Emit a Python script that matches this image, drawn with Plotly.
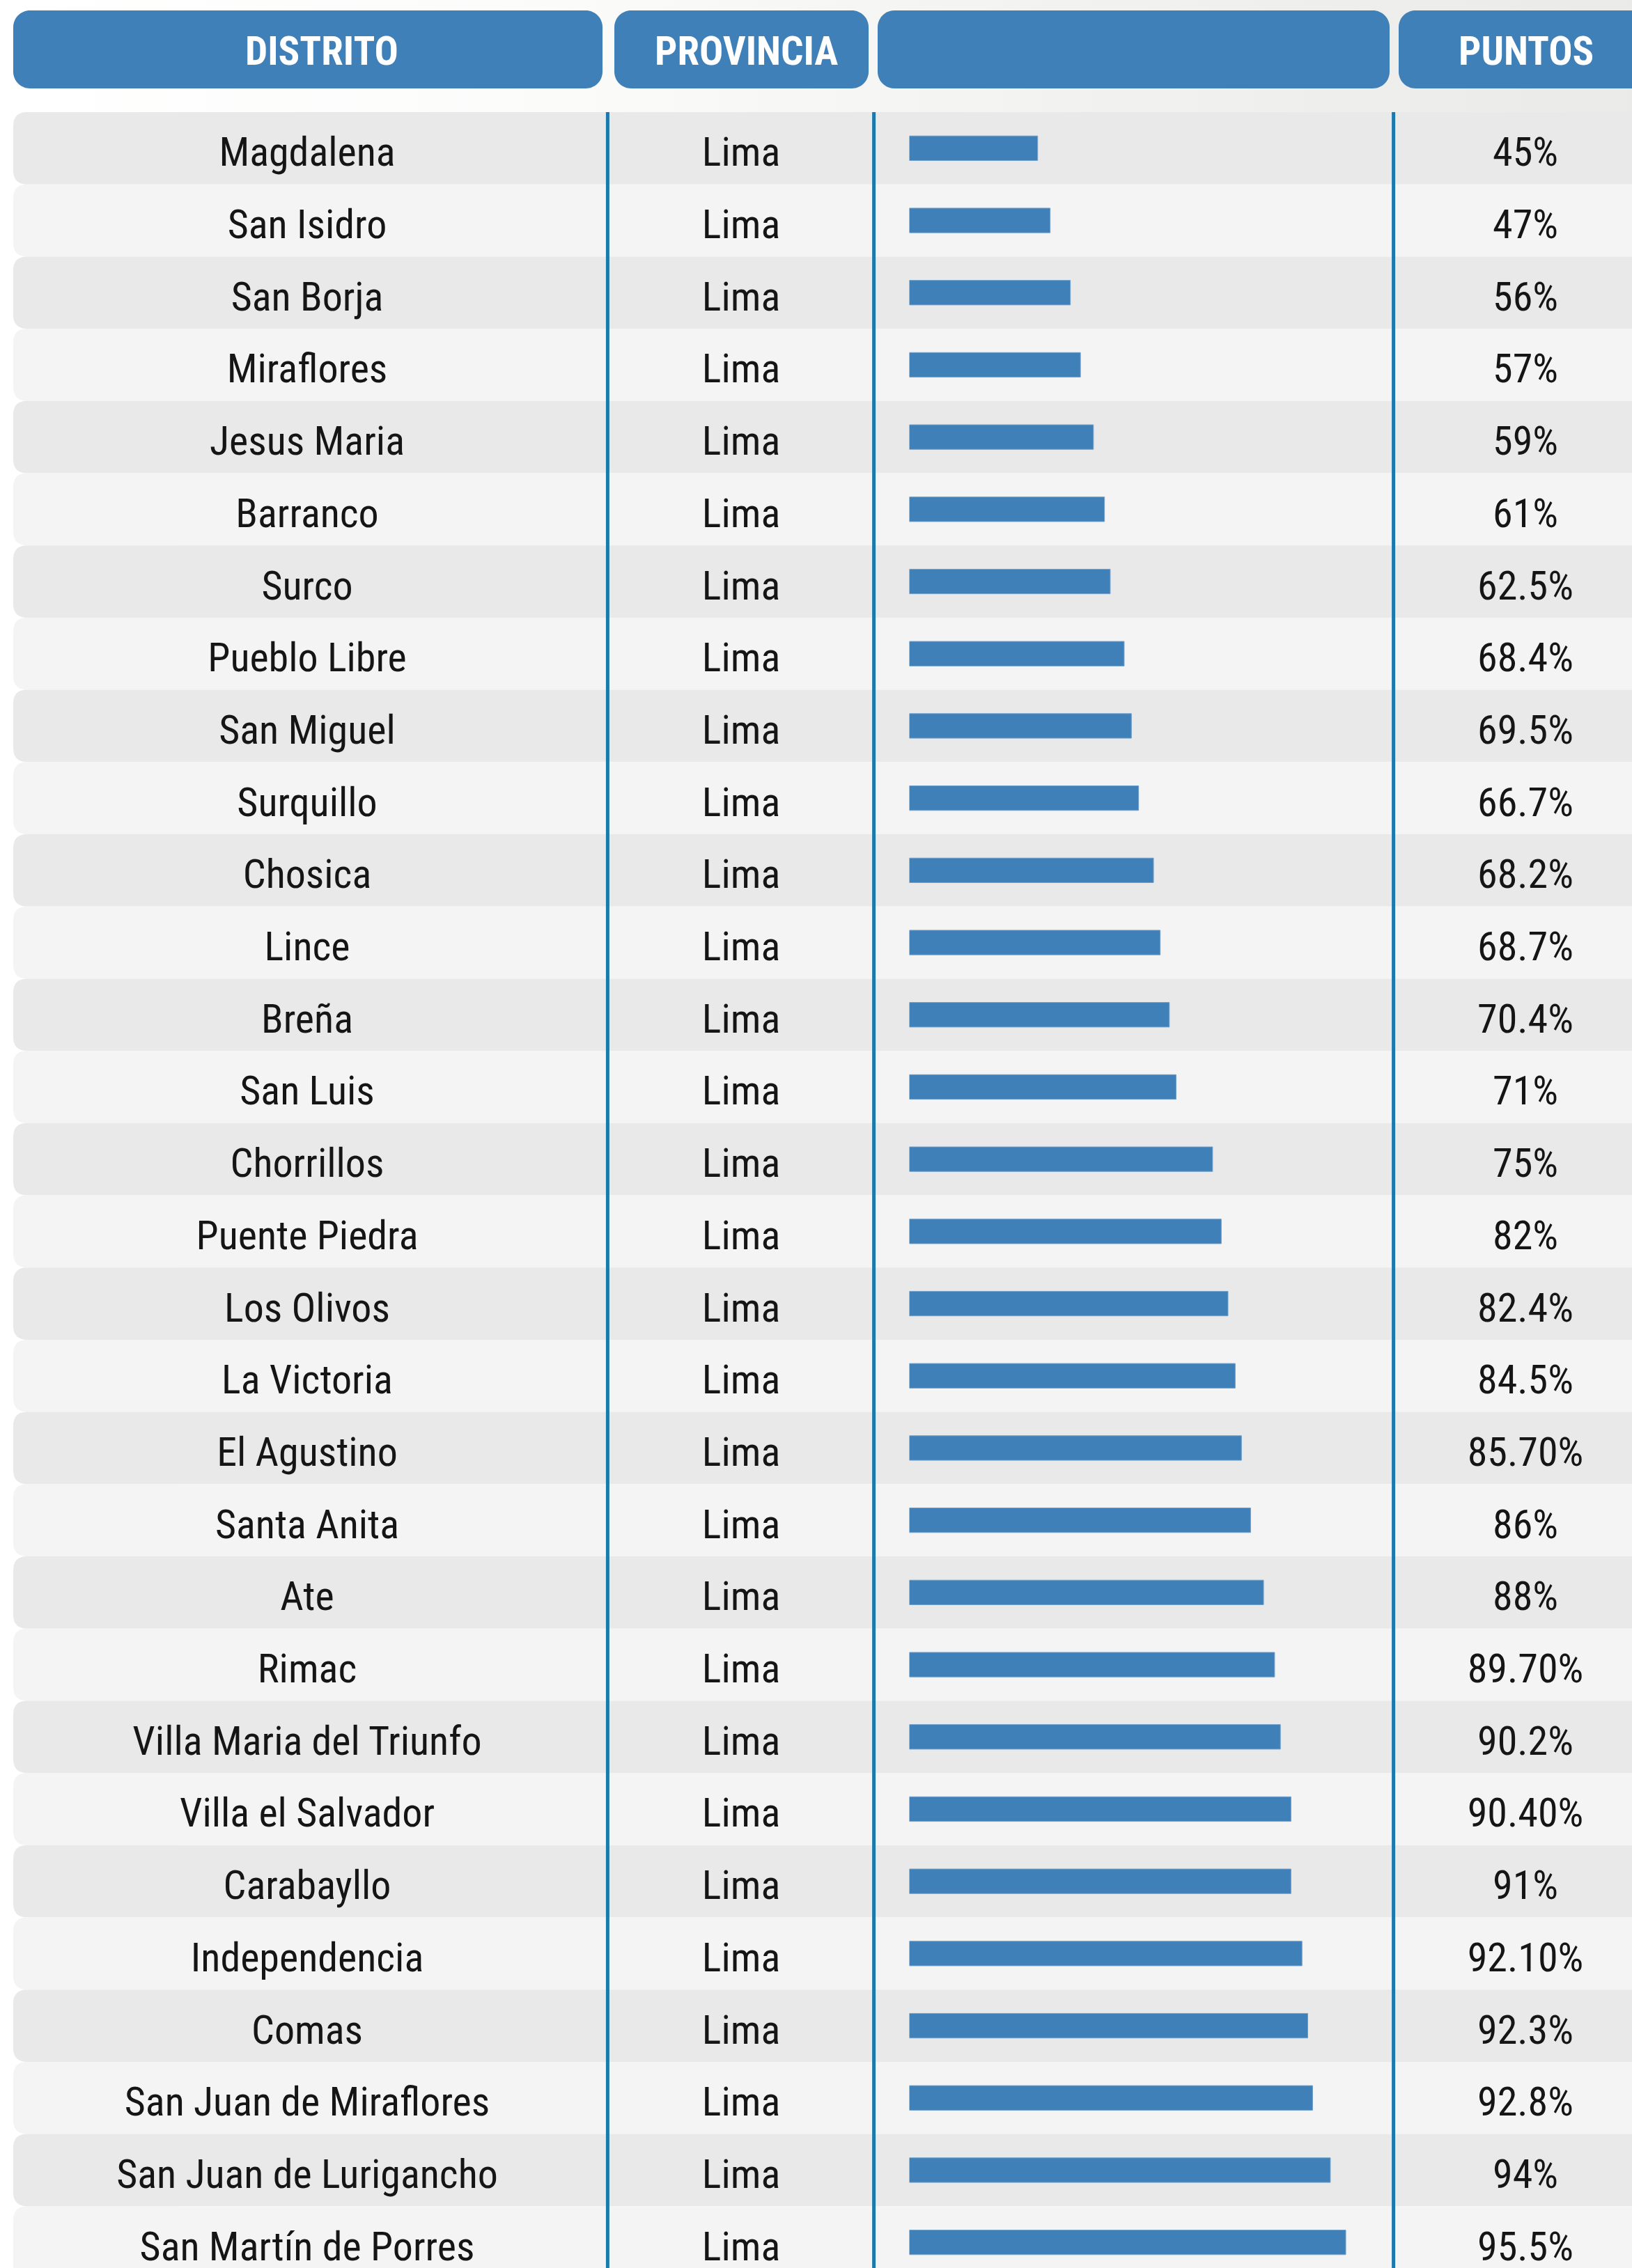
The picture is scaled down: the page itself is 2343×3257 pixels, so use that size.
import plotly.graph_objects as go

# ---------------- data ----------------
distritos = [
    "Magdalena", "San Isidro", "San Borja", "Miraflores", "Jesus Maria",
    "Barranco", "Surco", "Pueblo Libre", "San Miguel", "Surquillo",
    "Chosica", "Lince", "Breña", "San Luis", "Chorrillos",
    "Puente Piedra", "Los Olivos", "La Victoria", "El Agustino", "Santa Anita",
    "Ate", "Rimac", "Villa Maria del Triunfo", "Villa el Salvador", "Carabayllo",
    "Independencia", "Comas", "San Juan de Miraflores", "San Juan de Lurigancho",
    "San Martín de Porres",
]
provincias = [
    "Lima", "Lima", "Lima", "Lima", "Lima", "Lima", "Lima", "Lima", "Lima", "Lima",
    "Lima", "Lima", "Lima", "Lima", "Lima", "Lima", "Lima", "Lima", "Lima", "Lima",
    "Lima", "Lima", "Lima", "Lima", "Lima", "Lima", "Lima", "Lima", "Lima", "Lima",
]
puntos = [
    "45%", "47%", "56%", "57%", "59%", "61%", "62.5%", "68.4%", "69.5%", "66.7%",
    "68.2%", "68.7%", "70.4%", "71%", "75%", "82%", "82.4%", "84.5%", "85.70%", "86%",
    "88%", "89.70%", "90.2%", "90.40%", "91%", "92.10%", "92.3%", "92.8%", "94%", "95.5%",
]
# bar lengths as drawn in the graphic (percent of the bar column width)
barras = [
    26.7, 29.3, 33.5, 35.6, 38.3, 40.6, 41.8, 44.7, 46.2, 47.7,
    50.8, 52.2, 54.1, 55.5, 63.1, 64.9, 66.3, 67.8, 69.1, 71.0,
    73.7, 76.0, 77.2, 79.4, 79.4, 81.7, 82.9, 83.9, 87.6, 90.8,
]
headers = ["DISTRITO", "PROVINCIA", "", "PUNTOS"]

# ---------------- layout geometry (pixels) ----------------
W, H = 2343, 3257
ROW_TOP, ROW_H = 161, 103.7
N = len(distritos)

def py(p):  # pixel y -> row data coordinate
    return (p - ROW_TOP) / ROW_H - 0.5

def px(p):  # pixel x -> paper
    return p / W

BLUE = "#4080b9"
LINE = "#1c79ae"
ROW_A = "#e9e9e9"
ROW_B = "#f4f4f4"
TXT = "#151515"
FONT = "'Roboto Condensed', 'Liberation Sans Narrow', 'Arial Narrow', Roboto, sans-serif"

COL_X = {"dist": 441, "prov": 1064, "pts": 2190}
TEXT_DY = 11  # pixels the row text sits below row centre
BAR_X0, BAR_X1 = 1305.5, 1995.5
VLINES = [872.4, 1254.6, 2000.6]
HDR_BOXES = [(19, 865), (882, 1247), (1260, 1995), (2008, 2400)]
HDR_TEXT_X = [462, 1071, None, 2191]
HDR_Y0, HDR_Y1 = 15, 127

fig = go.Figure()

# background gradient above rows
y_top = py(0)
fig.add_trace(go.Scatter(
    x=[0, W, W, 0, 0], y=[y_top, y_top, py(ROW_TOP), py(ROW_TOP), y_top],
    xaxis="x2", yaxis="y", mode="lines", line=dict(width=0),
    fill="toself",
    fillgradient=dict(type="horizontal",
                      colorscale=[[0, "#ffffff"], [0.35, "#fbfbfa"], [0.65, "#f2f2f0"], [1, "#eaeae9"]]),
    hoverinfo="skip", showlegend=False,
))

# bars
fig.add_trace(go.Bar(
    x=barras, y=list(range(N)), orientation="h", width=0.34,
    marker=dict(color=BLUE, line=dict(color="#6f9fcc", width=1)),
    xaxis="x", yaxis="y", hoverinfo="skip", showlegend=False,
))

# text columns
text_font = dict(family=FONT, size=58, color=TXT)
ty = [i + TEXT_DY / ROW_H for i in range(N)]
for col, vals in (("dist", distritos), ("prov", provincias), ("pts", puntos)):
    fig.add_trace(go.Scatter(
        x=[COL_X[col]] * N, y=ty, text=vals, mode="text",
        textposition="middle center", textfont=text_font,
        xaxis="x2", yaxis="y", hoverinfo="skip", showlegend=False, cliponaxis=False,
    ))

shapes = []
# row backgrounds with rounded left corners
rx, ry = px(20), 20 / ROW_H
x0 = px(19)
for i in range(N):
    t, b = i - 0.5, i + 0.5
    path = (f"M {x0+rx},{t} L 1.02,{t} L 1.02,{b} L {x0+rx},{b} "
            f"Q {x0},{b} {x0},{b-ry} L {x0},{t+ry} Q {x0},{t} {x0+rx},{t} Z")
    shapes.append(dict(type="path", path=path, xref="paper", yref="y",
                       fillcolor=ROW_A if i % 2 == 0 else ROW_B, line=dict(width=0), layer="below"))

# header boxes (rounded)
def rounded(xa, xb, ya, yb, r):
    k = 0.55
    X = lambda p: px(p)
    Y = lambda p: py(p)
    return (f"M {X(xa+r)},{Y(ya)} L {X(xb-r)},{Y(ya)} "
            f"C {X(xb-r+k*r)},{Y(ya)} {X(xb)},{Y(ya+r-k*r)} {X(xb)},{Y(ya+r)} "
            f"L {X(xb)},{Y(yb-r)} "
            f"C {X(xb)},{Y(yb-r+k*r)} {X(xb-r+k*r)},{Y(yb)} {X(xb-r)},{Y(yb)} "
            f"L {X(xa+r)},{Y(yb)} "
            f"C {X(xa+r-k*r)},{Y(yb)} {X(xa)},{Y(yb-r+k*r)} {X(xa)},{Y(yb-r)} "
            f"L {X(xa)},{Y(ya+r)} "
            f"C {X(xa)},{Y(ya+r-k*r)} {X(xa+r-k*r)},{Y(ya)} {X(xa+r)},{Y(ya)} Z")

for (xa, xb) in HDR_BOXES:
    shapes.append(dict(type="path", path=rounded(xa, xb, HDR_Y0, HDR_Y1, 24),
                       xref="paper", yref="y", fillcolor=BLUE, line=dict(width=0), layer="above"))

# vertical separators
for vx in VLINES:
    shapes.append(dict(type="line", xref="paper", yref="y", x0=px(vx), x1=px(vx),
                       y0=py(ROW_TOP), y1=py(H + 5), line=dict(color=LINE, width=5), layer="above"))

annotations = []
for txt, tx in zip(headers, HDR_TEXT_X):
    if tx is None or not txt:
        continue
    annotations.append(dict(text=f"<b>{txt}</b>", x=px(tx), y=py((HDR_Y0 + HDR_Y1) / 2 + 2),
                            xref="paper", yref="y", showarrow=False, xanchor="center", yanchor="middle",
                            font=dict(family=FONT, size=57, color="#ffffff")))

fig.update_layout(
    width=W, height=H,
    margin=dict(l=0, r=0, t=0, b=0),
    paper_bgcolor="#ffffff", plot_bgcolor="rgba(0,0,0,0)",
    shapes=shapes, annotations=annotations,
    xaxis=dict(domain=[px(BAR_X0), px(BAR_X1)], range=[0, 100], visible=False, fixedrange=True),
    xaxis2=dict(domain=[0, 1], range=[0, W], visible=False, anchor="y", fixedrange=True),
    yaxis=dict(domain=[0, 1], range=[py(H), py(0)], visible=False, fixedrange=True),
    showlegend=False,
)

fig.write_html(
    "out.html",
    config={"displayModeBar": False},
    post_script="document.body.style.margin='0';document.body.style.overflow='hidden';",
)
